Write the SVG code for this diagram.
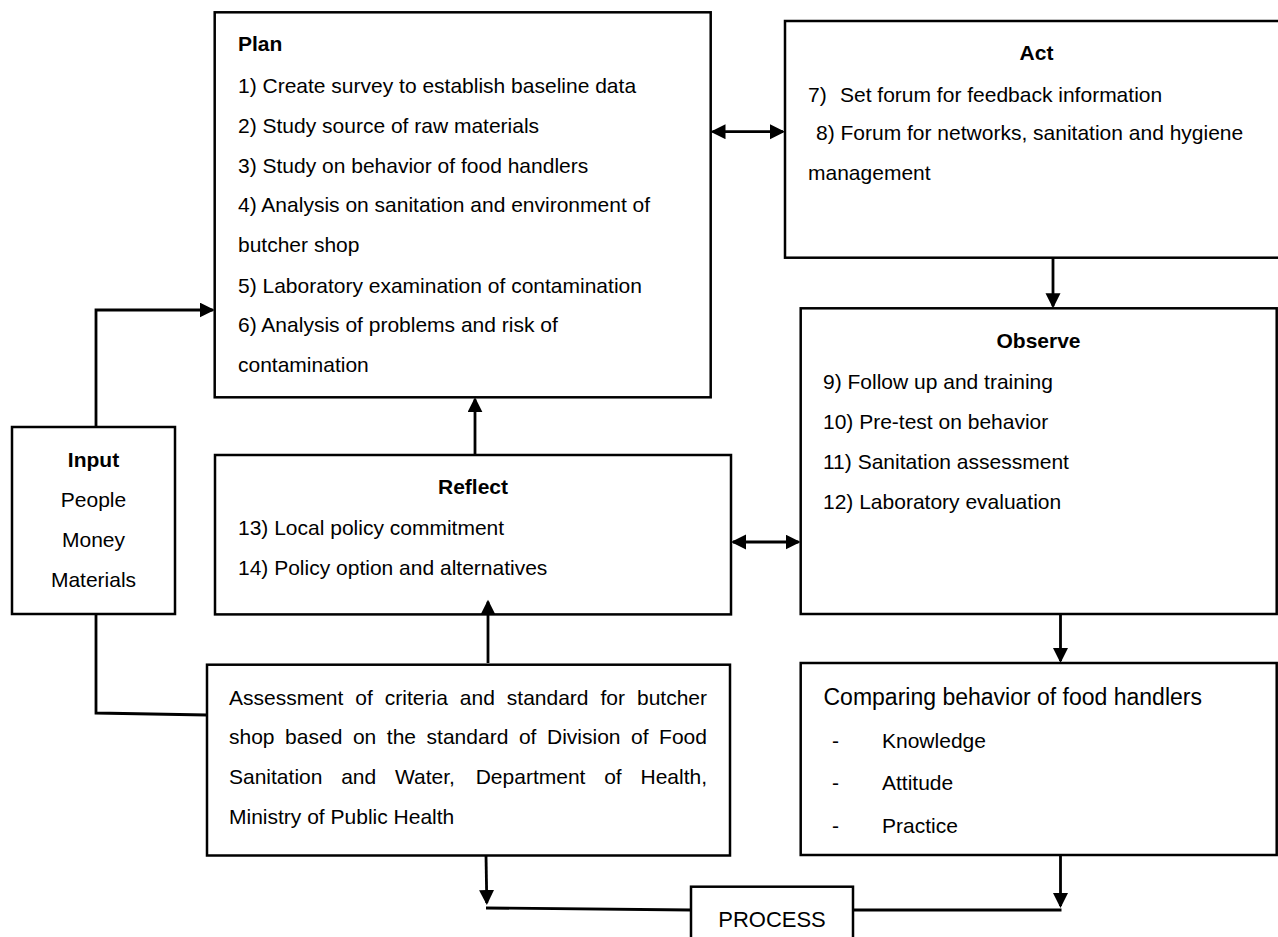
<svg xmlns="http://www.w3.org/2000/svg" width="1278" height="937" viewBox="0 0 1278 937">
<defs>
<style>
.box{fill:#fff;stroke:#000;stroke-width:2.5}
.t{font-family:"Liberation Sans",Arial,sans-serif;font-size:21px;fill:#000}
.b{font-weight:bold}
.c{text-anchor:middle}
.con{fill:none;stroke:#000;stroke-width:2.8}
</style>
<marker id="ah" markerUnits="userSpaceOnUse" markerWidth="16" markerHeight="16" viewBox="0 0 16 16" refX="13" refY="7.5" orient="auto-start-reverse">
<path d="M0,0 L15,7.5 L0,15 z" fill="#000"/>
</marker>
</defs>
<rect width="1278" height="937" fill="#fff"/>

<g id="plan">
<rect class="box" x="214.7" y="12.3" width="496" height="385"/>
<text class="t b" x="238" y="50.7">Plan</text>
<text class="t" x="238" y="93">1) Create survey to establish baseline data</text>
<text class="t" x="238" y="133">2) Study source of raw materials</text>
<text class="t" x="238" y="172.5">3) Study on behavior of food handlers</text>
<text class="t" x="238" y="212">4) Analysis on sanitation and environment of</text>
<text class="t" x="238" y="252">butcher shop</text>
<text class="t" x="238" y="292.5">5) Laboratory examination of contamination</text>
<text class="t" x="238" y="332">6) Analysis of problems and risk of</text>
<text class="t" x="238" y="371.5">contamination</text>
</g>

<g id="act">
<rect class="box" x="785" y="21" width="503" height="236.7"/>
<text class="t b c" x="1036.5" y="60">Act</text>
<text class="t" x="808" y="101.7">7)<tspan x="840">Set forum for feedback information</tspan></text>
<text class="t" x="816" y="140">8) Forum for networks, sanitation and hygiene</text>
<text class="t" x="808" y="180">management</text>
</g>

<g id="observe">
<rect class="box" x="800.7" y="308.3" width="476" height="305.7"/>
<text class="t b c" x="1038.5" y="348">Observe</text>
<text class="t" x="823" y="389">9) Follow up and training</text>
<text class="t" x="823" y="429">10) Pre-test on behavior</text>
<text class="t" x="823" y="469">11) Sanitation assessment</text>
<text class="t" x="823" y="509">12) Laboratory evaluation</text>
</g>

<g id="input">
<rect class="box" x="12" y="427" width="163" height="187"/>
<text class="t b c" x="93.5" y="467">Input</text>
<text class="t c" x="93.5" y="507">People</text>
<text class="t c" x="93.5" y="547">Money</text>
<text class="t c" x="93.5" y="587">Materials</text>
</g>

<g id="reflect">
<rect class="box" x="215" y="455" width="516" height="159.4"/>
<text class="t b c" x="473" y="494">Reflect</text>
<text class="t" x="238" y="535">13) Local policy commitment</text>
<text class="t" x="238" y="575">14) Policy option and alternatives</text>
</g>

<g id="assessment">
<rect class="box" x="207" y="664.7" width="523" height="190.8"/>
<text class="t" y="704.5"><tspan x="229">Assessment</tspan><tspan x="355.3">of</tspan><tspan x="384.8">criteria</tspan><tspan x="459.8">and</tspan><tspan x="506.8">standard</tspan><tspan x="600.5">for</tspan><tspan x="637">butcher</tspan></text>
<text class="t" y="744"><tspan x="229">shop</tspan><tspan x="285.1">based</tspan><tspan x="352.9">on</tspan><tspan x="386.8">the</tspan><tspan x="426.6">standard</tspan><tspan x="518.9">of</tspan><tspan x="547">Division</tspan><tspan x="631">of</tspan><tspan x="659.1">Food</tspan></text>
<text class="t" y="783.5"><tspan x="229">Sanitation</tspan><tspan x="341.2">and</tspan><tspan x="395">Water,</tspan><tspan x="475.7">Department</tspan><tspan x="604.2">of</tspan><tspan x="640.5">Health,</tspan></text>
<text class="t" x="229" y="823.5">Ministry of Public Health</text>
</g>

<g id="comparing">
<rect class="box" x="800.7" y="663" width="476" height="192"/>
<text class="t" x="823.5" y="705" style="font-size:23px">Comparing behavior of food handlers</text>
<text class="t" x="832" y="748">-</text><text class="t" x="882" y="748">Knowledge</text>
<text class="t" x="832" y="790">-</text><text class="t" x="882" y="790">Attitude</text>
<text class="t" x="832" y="832.5">-</text><text class="t" x="882" y="832.5">Practice</text>
</g>

<g id="process">
<rect class="box" x="691" y="886.7" width="162" height="60"/>
<text class="t c" x="772" y="927" style="font-size:22px">PROCESS</text>
</g>

<g id="connectors">
<path class="con" d="M96,427 V310 H212.7" marker-end="url(#ah)"/>
<path class="con" d="M475,455 V399.3" marker-end="url(#ah)"/>
<path class="con" d="M712.5,131.7 H783" marker-start="url(#ah)" marker-end="url(#ah)"/>
<path class="con" d="M1053,258 V306.3" marker-end="url(#ah)"/>
<path class="con" d="M733,542 H798.5" marker-start="url(#ah)" marker-end="url(#ah)"/>
<path class="con" d="M1060.5,614 V661" marker-end="url(#ah)"/>
<path class="con" d="M488,663 V601.7" marker-end="url(#ah)"/>
<path class="con" d="M96,614 V713 L207,715"/>
<path class="con" d="M486,855 L486.8,903" marker-end="url(#ah)"/>
<path class="con" d="M486,908 L691,910"/>
<path class="con" d="M1060.5,855 V906" marker-end="url(#ah)"/>
<path class="con" d="M853,910 H1061.5"/>
</g>
</svg>
